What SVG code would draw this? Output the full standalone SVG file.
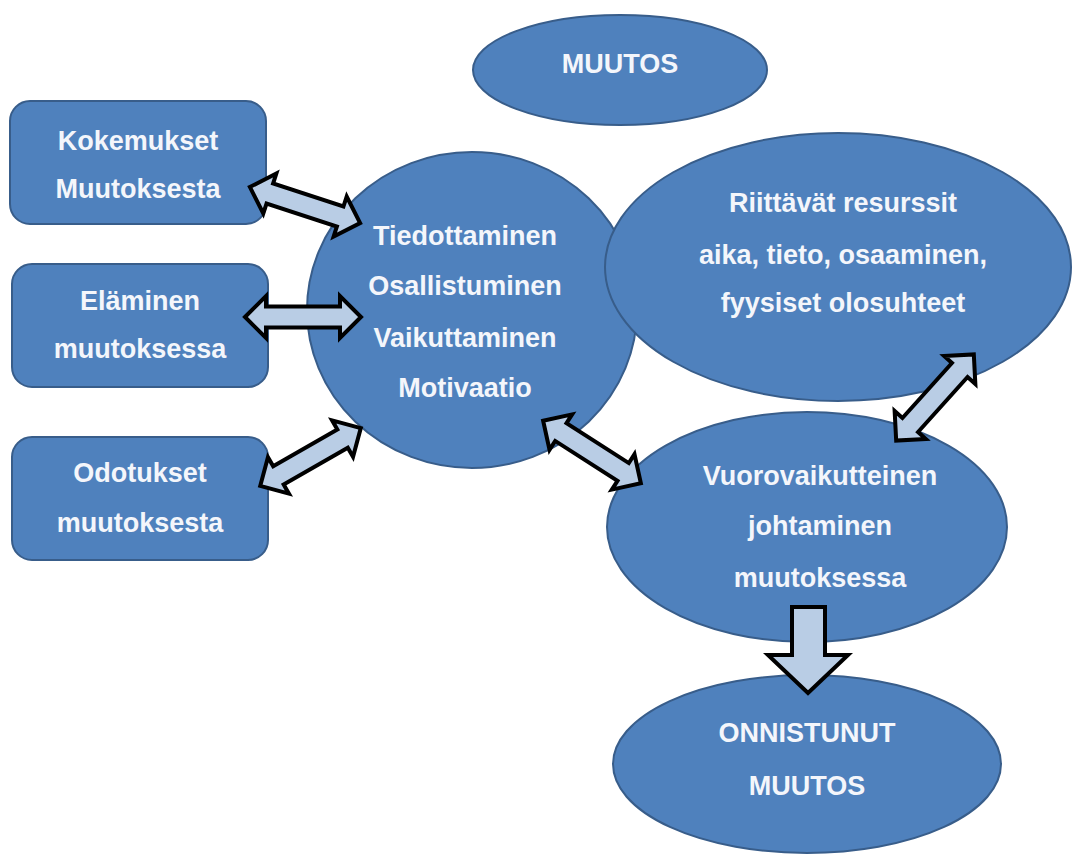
<svg xmlns="http://www.w3.org/2000/svg" xmlns:xlink="http://www.w3.org/1999/xlink" width="1074" height="856" viewBox="0 0 1074 856">
<style>
.node{fill:#4f81bd;stroke:#385d8a;stroke-width:2}
.lbl{font-family:"Liberation Sans",Arial,sans-serif;font-weight:bold;font-size:27px;fill:#f4f6fb;text-anchor:middle}
.arr{fill:#b9cde5;stroke:#000;stroke-width:4;stroke-linejoin:miter}
</style>
<defs>
<path id="dbl" d="M -58 0 L -37 -21 L -37 -10.5 L 37 -10.5 L 37 -21 L 58 0 L 37 21 L 37 10.5 L -37 10.5 L -37 21 Z"/>
</defs>
<rect width="1074" height="856" fill="#fff"/>
<g id="n-muutos">
<ellipse class="node" cx="620" cy="70" rx="147" ry="55"/>
<text class="lbl" x="620" y="73">MUUTOS</text>
</g>
<g id="n-kokemukset">
<rect class="node" x="10" y="101" width="256" height="123" rx="20"/>
<text class="lbl" x="138" y="150">Kokemukset</text>
<text class="lbl" x="138" y="198">Muutoksesta</text>
</g>
<g id="n-elaminen">
<rect class="node" x="12" y="264" width="256" height="123" rx="20"/>
<text class="lbl" x="140" y="310">Eläminen</text>
<text class="lbl" x="140" y="358">muutoksessa</text>
</g>
<g id="n-odotukset">
<rect class="node" x="12" y="437" width="256" height="123" rx="20"/>
<text class="lbl" x="140" y="482">Odotukset</text>
<text class="lbl" x="140" y="532">muutoksesta</text>
</g>
<g id="n-tiedottaminen">
<ellipse class="node" cx="472" cy="310" rx="165" ry="158"/>
<text class="lbl" x="465" y="245">Tiedottaminen</text>
<text class="lbl" x="465" y="295">Osallistuminen</text>
<text class="lbl" x="465" y="347">Vaikuttaminen</text>
<text class="lbl" x="465" y="397">Motivaatio</text>
</g>
<g id="n-resurssit">
<ellipse class="node" cx="838" cy="267" rx="233" ry="134"/>
<text class="lbl" x="843" y="212">Riittävät resurssit</text>
<text class="lbl" x="843" y="264">aika, tieto, osaaminen,</text>
<text class="lbl" x="843" y="312">fyysiset olosuhteet</text>
</g>
<g id="n-johtaminen">
<ellipse class="node" cx="807" cy="527" rx="200" ry="115"/>
<text class="lbl" x="820" y="485">Vuorovaikutteinen</text>
<text class="lbl" x="820" y="535">johtaminen</text>
<text class="lbl" x="820" y="587">muutoksessa</text>
</g>
<g id="n-onnistunut">
<ellipse class="node" cx="807" cy="764" rx="194" ry="89"/>
<text class="lbl" x="807" y="742">ONNISTUNUT</text>
<text class="lbl" x="807" y="795">MUUTOS</text>
</g>
<g id="connectors">
<use xlink:href="#dbl" class="arr" transform="translate(305 205) rotate(18.1)"/>
<use xlink:href="#dbl" class="arr" transform="translate(303 317)"/>
<use xlink:href="#dbl" class="arr" transform="translate(310.5 457) rotate(-29.9)"/>
<use xlink:href="#dbl" class="arr" transform="translate(592 452) rotate(32.6)"/>
<use xlink:href="#dbl" class="arr" transform="translate(935 397.5) rotate(-48)"/>
<path class="arr" d="M 792 607 L 825 607 L 825 655 L 848 655 L 808 693 L 768 655 L 792 655 Z"/>
</g>
</svg>
